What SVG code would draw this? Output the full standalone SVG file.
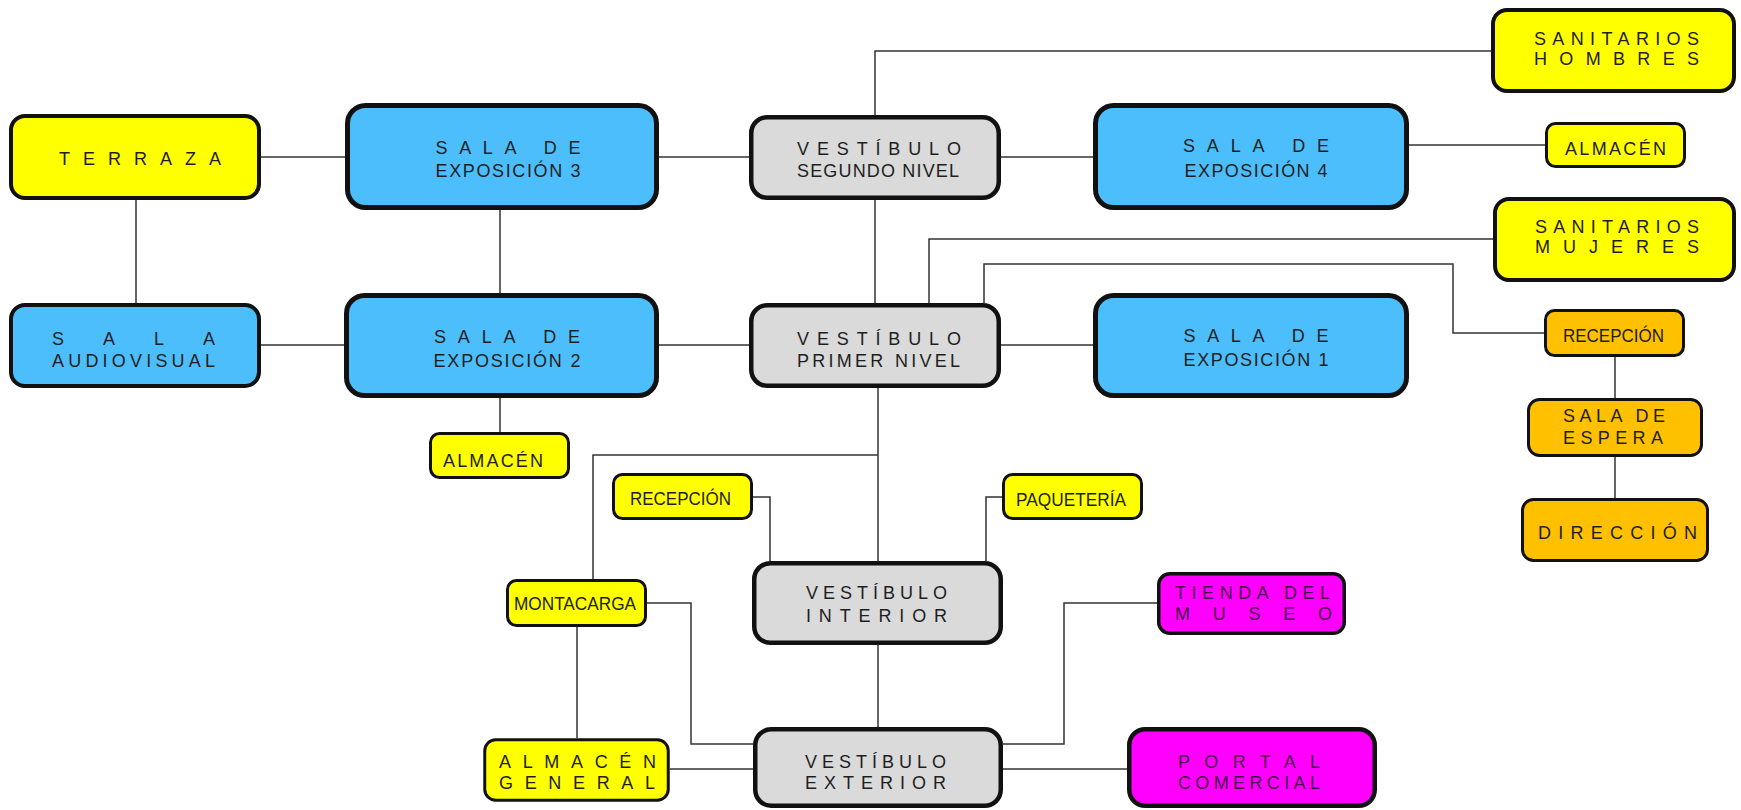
<svg xmlns="http://www.w3.org/2000/svg" width="1741" height="810" viewBox="0 0 1741 810">
<style>
.n rect{stroke:#111;}
.y{fill:#FFFF00;stroke-width:3;}
.yb{fill:#FFFF00;stroke-width:4;}
.bl{fill:#4DBEFC;stroke-width:5;}
.bls{fill:#4DBEFC;stroke-width:4;}
.gr{fill:#DADADA;stroke-width:4.5;}
.or{fill:#FFC000;stroke-width:3;}
.mg{fill:#FF00FF;stroke-width:3.5;}
.mgb{fill:#FF00FF;stroke-width:4.5;}
text{font-family:"Liberation Sans",Arial,sans-serif;font-size:18px;fill:#1e1e1e;text-anchor:middle;}
.c{font-size:19px;}
.mt{fill:#4a0c48;}
#connectors path{fill:none;stroke:#333;stroke-width:1.5;}
</style>
<rect width="1741" height="810" fill="#ffffff"/>
<g id="connectors">
<path d="M261,157H345"/>
<path d="M659,157H749"/>
<path d="M1001,157H1093"/>
<path d="M1409,145H1545"/>
<path d="M875,115V51H1491"/>
<path d="M136,200V303"/>
<path d="M500,210V293"/>
<path d="M875,200V303"/>
<path d="M261,345H344"/>
<path d="M659,345H749"/>
<path d="M1001,345H1093"/>
<path d="M500,398V432"/>
<path d="M929,303V239H1493"/>
<path d="M984,303V264H1453V333H1544"/>
<path d="M1615,357V398"/>
<path d="M1615,457V498"/>
<path d="M878,388V561"/>
<path d="M878,455H593V579"/>
<path d="M753,497H770V561"/>
<path d="M1002,497H986V561"/>
<path d="M647,603H691V744H753"/>
<path d="M577,627V738"/>
<path d="M878,645V727"/>
<path d="M1157,603H1064V744H1003"/>
<path d="M670,769H753"/>
<path d="M1003,769H1127"/>
</g>
<g id="terraza" class="n"><rect class="yb" x="11" y="116" width="248" height="82" rx="14"/><text x="140" y="165" textLength="162" lengthAdjust="spacing">TERRAZA</text></g>
<g id="sala3" class="n"><rect class="bl" x="347.5" y="105.5" width="309" height="102" rx="18"/><text x="508" y="154" textLength="145" lengthAdjust="spacing">SALA DE</text><text x="508" y="177" textLength="145" lengthAdjust="spacing">EXPOSICIÓN 3</text></g>
<g id="vestibulo-segundo" class="n"><rect class="gr" x="751.25" y="117.25" width="247.5" height="80.5" rx="16"/><text x="879" y="155" textLength="164" lengthAdjust="spacing">VESTÍBULO</text><text x="878" y="177" textLength="162" lengthAdjust="spacing">SEGUNDO NIVEL</text></g>
<g id="sala4" class="n"><rect class="bl" x="1095.5" y="105.5" width="311" height="102" rx="18"/><text x="1256" y="152" textLength="146" lengthAdjust="spacing">SALA DE</text><text x="1256" y="177" textLength="143" lengthAdjust="spacing">EXPOSICIÓN 4</text></g>
<g id="sanitarios-hombres" class="n"><rect class="yb" x="1493" y="10" width="241" height="81" rx="14"/><text x="1616.5" y="45" textLength="165" lengthAdjust="spacing">SANITARIOS</text><text x="1616.5" y="65" textLength="165" lengthAdjust="spacing">HOMBRES</text></g>
<g id="almacen-4" class="n"><rect class="y" x="1546.5" y="123.5" width="138" height="43" rx="9"/><text x="1615.5" y="155" textLength="101" lengthAdjust="spacing">ALMACÉN</text></g>
<g id="sanitarios-mujeres" class="n"><rect class="yb" x="1495" y="199" width="239" height="81" rx="14"/><text x="1617" y="233" textLength="164" lengthAdjust="spacing">SANITARIOS</text><text x="1617" y="253" textLength="164" lengthAdjust="spacing">MUJERES</text></g>
<g id="sala-audiovisual" class="n"><rect class="bls" x="11" y="305" width="248" height="81" rx="14"/><text x="133.5" y="345" textLength="163" lengthAdjust="spacing">SALA</text><text x="133.5" y="367" textLength="163" lengthAdjust="spacing">AUDIOVISUAL</text></g>
<g id="sala2" class="n"><rect class="bl" x="346.5" y="295.5" width="310" height="100" rx="18"/><text x="507" y="343" textLength="146" lengthAdjust="spacing">SALA DE</text><text x="507" y="367" textLength="147" lengthAdjust="spacing">EXPOSICIÓN 2</text></g>
<g id="vestibulo-primer" class="n"><rect class="gr" x="751.25" y="305.25" width="247.5" height="80.5" rx="16"/><text x="879" y="345" textLength="164" lengthAdjust="spacing">VESTÍBULO</text><text x="878.5" y="367" textLength="163" lengthAdjust="spacing">PRIMER NIVEL</text></g>
<g id="sala1" class="n"><rect class="bl" x="1095.5" y="295.5" width="311" height="100" rx="18"/><text x="1256" y="342" textLength="145" lengthAdjust="spacing">SALA DE</text><text x="1256" y="366" textLength="145" lengthAdjust="spacing">EXPOSICIÓN 1</text></g>
<g id="recepcion-admin" class="n"><rect class="or" x="1545.5" y="310.5" width="138" height="45" rx="9"/><text class="c" x="1613.5" y="342" textLength="101" lengthAdjust="spacingAndGlyphs">RECEPCIÓN</text></g>
<g id="almacen-2" class="n"><rect class="y" x="430.5" y="433.5" width="138" height="44" rx="9"/><text x="493" y="467" textLength="100" lengthAdjust="spacing">ALMACÉN</text></g>
<g id="sala-espera" class="n"><rect class="or" x="1528.5" y="399.5" width="173" height="56" rx="11"/><text x="1614" y="422" textLength="102" lengthAdjust="spacing">SALA DE</text><text x="1613" y="444" textLength="100" lengthAdjust="spacing">ESPERA</text></g>
<g id="recepcion" class="n"><rect class="y" x="613.5" y="474.5" width="138" height="44" rx="9"/><text class="c" x="680.5" y="505" textLength="101" lengthAdjust="spacingAndGlyphs">RECEPCIÓN</text></g>
<g id="paqueteria" class="n"><rect class="y" x="1003.5" y="474.5" width="138" height="44" rx="9"/><text class="c" x="1071" y="506" textLength="110" lengthAdjust="spacingAndGlyphs">PAQUETERÍA</text></g>
<g id="direccion" class="n"><rect class="or" x="1522.5" y="499.5" width="185" height="61" rx="11"/><text x="1617.5" y="539" textLength="159" lengthAdjust="spacing">DIRECCIÓN</text></g>
<g id="montacarga" class="n"><rect class="y" x="507.5" y="580.5" width="138" height="45" rx="9"/><text class="c" x="575" y="610" textLength="122" lengthAdjust="spacingAndGlyphs">MONTACARGA</text></g>
<g id="vestibulo-interior" class="n"><rect class="gr" x="754.25" y="563.25" width="246.5" height="79.5" rx="16"/><text x="876.5" y="599" textLength="141" lengthAdjust="spacing">VESTÍBULO</text><text x="876.5" y="622" textLength="141" lengthAdjust="spacing">INTERIOR</text></g>
<g id="tienda" class="n"><rect class="mg" x="1158.75" y="573.75" width="185.5" height="59.5" rx="11"/><text class="mt" x="1252.5" y="599" textLength="155" lengthAdjust="spacing">TIENDA DEL</text><text class="mt" x="1253.5" y="620" textLength="157" lengthAdjust="spacing">MUSEO</text></g>
<g id="almacen-general" class="n"><rect class="y" x="484.75" y="739.75" width="183.5" height="60.5" rx="11"/><text x="577.5" y="768" textLength="157" lengthAdjust="spacing">ALMACÉN</text><text x="577" y="789" textLength="156" lengthAdjust="spacing">GENERAL</text></g>
<g id="vestibulo-exterior" class="n"><rect class="gr" x="755.25" y="729.25" width="245.5" height="76.5" rx="16"/><text x="875.5" y="768" textLength="141" lengthAdjust="spacing">VESTÍBULO</text><text x="875.5" y="789" textLength="141" lengthAdjust="spacing">EXTERIOR</text></g>
<g id="portal" class="n"><rect class="mgb" x="1129.25" y="729.25" width="245.5" height="76.5" rx="16"/><text class="mt" x="1249" y="768" textLength="142" lengthAdjust="spacing">PORTAL</text><text class="mt" x="1249" y="789" textLength="142" lengthAdjust="spacing">COMERCIAL</text></g>
</svg>
